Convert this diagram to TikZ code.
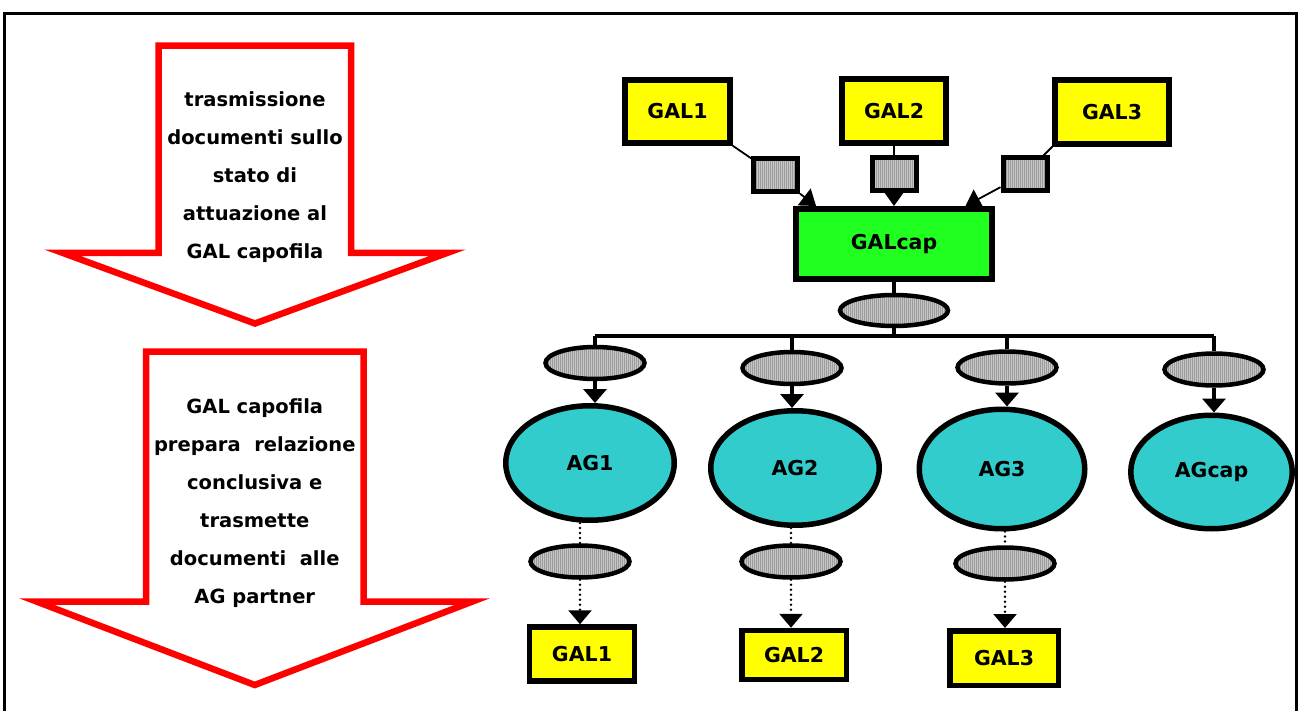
\documentclass[tikz,border=0pt]{standalone}
\usepackage{fontspec}
\setmainfont{DejaVu Sans}
\usetikzlibrary{arrows.meta,shapes.geometric,backgrounds,patterns}
\definecolor{galyellow}{RGB}{255,255,0}
\definecolor{galgreen}{RGB}{33,255,33}
\definecolor{agcyan}{RGB}{51,204,204}
\definecolor{arrred}{RGB}{255,0,0}
\pgfdeclarepatternformonly{vstripe}{\pgfpointorigin}{\pgfqpoint{2pt}{1pt}}{\pgfqpoint{2pt}{1pt}}{%
  \pgfpathrectangle{\pgfpointorigin}{\pgfqpoint{1pt}{1pt}}\pgfusepath{fill}}
\begin{document}
\begin{tikzpicture}[x=1pt,y=-1pt,
  hatch/.style={preaction={fill=black!22}, pattern=vstripe, pattern color=black!62},
  galbox/.style={rectangle, draw, line width=5.5pt, fill=galyellow, inner sep=0pt,
    font=\fontsize{20.5}{24}\selectfont\bfseries},
  capbox/.style={rectangle, draw, line width=6pt, fill=galgreen, inner sep=0pt,
    minimum width=196pt, minimum height=70pt, font=\fontsize{20.5}{24}\selectfont\bfseries},
  smallrect/.style={rectangle, draw, line width=5pt, inner sep=0pt,
    minimum width=44pt, minimum height=33pt, hatch},
  smallell/.style={ellipse, draw, line width=4.5pt, inner sep=0pt,
    minimum width=99pt, minimum height=32pt, hatch},
  agell/.style={ellipse, draw, line width=5.5pt, fill=agcyan, inner sep=0pt,
    font=\fontsize{20.5}{24}\selectfont\bfseries},
  redarrow/.style={draw=arrred, line width=6.5pt, fill=white, line join=miter},
  arrtext/.style={align=center, inner sep=0pt, font=\fontsize{19.5}{38}\selectfont\bfseries},
  thinconn/.style={line width=1.8pt},
  conn/.style={line width=4pt},
  dotconn/.style={line width=2.6pt, dash pattern=on 0pt off 5pt, line cap=round},
  smalltri/.style={-{Triangle[length=15pt,width=21pt]}},
  bigtri/.style={-{Triangle[length=14pt,width=23pt]}}
]
\useasboundingbox (0,0) rectangle (1298,711);
% frame
\draw[line width=3pt] (4.7,711) -- (4.7,13.7) -- (1296.5,13.7) -- (1296.5,711);

% red arrows
\draw[redarrow] (158.5,45.7) -- (351,45.7) -- (351,253) -- (447,253) -- (255,323.5)
  -- (63,253) -- (158.5,253) -- cycle;
\node[arrtext] (T1) at (255,177) {trasmissione\\documenti sullo\\stato di\\attuazione al\\GAL capofila};
\draw[redarrow] (146,351.5) -- (363.5,351.5) -- (363.5,601.7) -- (472,601.7) -- (254.75,685)
  -- (37,601.7) -- (146,601.7) -- cycle;
\node[arrtext] (T2) at (254.75,503) {GAL capofila\\prepara~ relazione\\conclusiva e\\trasmette\\documenti~ alle\\AG partner};

% top GAL boxes
\node[galbox, minimum width=105pt, minimum height=63pt] (GAL1) at (677.5,111.5) {GAL1};
\node[galbox, minimum width=104pt, minimum height=64pt] (GAL2) at (894,111) {GAL2};
\node[galbox, minimum width=114pt, minimum height=64pt] (GAL3) at (1112,112) {GAL3};
\node[smallrect] (R1) at (775.5,175) {};
\node[smallrect] (R2) at (894,174) {};
\node[smallrect] (R3) at (1025,174) {};
\node[capbox] (GALcap) at (894,244) {GALcap};

% middle ellipse and bus
\node[smallell, minimum width=108pt, minimum height=31pt] (E0) at (894,310.5) {};
\coordinate (busL) at (595,335.5);
\coordinate (busR) at (1214,335.5);

% AG columns
\node[smallell] (E1) at (595,363) {};
\node[smallell] (E2) at (792,368) {};
\node[smallell] (E3) at (1007,367.5) {};
\node[smallell] (E4) at (1214,369.5) {};

\node[agell, minimum width=168.5pt, minimum height=114.5pt] (AG1) at (590,463) {AG1};
\node[agell, minimum width=168.5pt, minimum height=114.5pt] (AG2) at (795,468) {AG2};
\node[agell, minimum width=165.5pt, minimum height=119.5pt] (AG3) at (1002,469) {AG3};
\node[agell, minimum width=161.5pt, minimum height=113.5pt] (AGcap) at (1211.5,472) {AGcap};

\node[smallell] (E1b) at (580,561.5) {};
\node[smallell] (E2b) at (791,561.5) {};
\node[smallell] (E3b) at (1005,563.5) {};

\node[galbox, minimum width=105pt, minimum height=54pt] (GALb1) at (582,654) {GAL1};
\node[galbox, minimum width=104.5pt, minimum height=49pt] (GALb2) at (794,655) {GAL2};
\node[galbox, minimum width=108.5pt, minimum height=54.5pt] (GALb3) at (1004,658) {GAL3};

\begin{scope}[on background layer]
  \draw[thinconn] (GAL1.south east) -- (R1.center);
  \draw[thinconn, smalltri] (R1) -- (GALcap.154);
  \draw[thinconn] (GAL2) -- (R2);
  \draw[thinconn, smalltri] (R2) -- (GALcap.north);
  \draw[thinconn] (GAL3.south west) -- (R3.center);
  \draw[thinconn, smalltri] (R3) -- (GALcap.28);
\end{scope}

\draw[conn] (GALcap) -- (E0);
\draw[conn] (E0) -- (E0 |- busL);
\draw[conn] (busL) -- (busR);
\draw[conn] (busL) -- (E1.north);
\draw[conn] (E2.north |- busL) -- (E2.north);
\draw[conn] (E3.north |- busL) -- (E3.north);
\draw[conn] (busR) -- (E4.north);

\draw[conn, bigtri] (E1.south) -- (E1.south |- AG1.north);
\draw[conn, bigtri] (E2.south) -- (E2.south |- AG2.north);
\draw[conn, bigtri] (E3.south) -- (E3.south |- AG3.north);
\draw[conn, bigtri] (E4.south) -- (E4.south |- AGcap.north);

\draw[dotconn] (E1b.north |- AG1.south) -- (E1b.north);
\draw[dotconn] (E2b.north |- AG2.south) -- (E2b.north);
\draw[dotconn] (E3b.north |- AG3.south) -- (E3b.north);
\draw[dotconn, bigtri] (E1b.south) -- (E1b.south |- GALb1.north);
\draw[dotconn, bigtri] (E2b.south) -- (E2b.south |- GALb2.north);
\draw[dotconn, bigtri] (E3b.south) -- (E3b.south |- GALb3.north);
\end{tikzpicture}
\end{document}
